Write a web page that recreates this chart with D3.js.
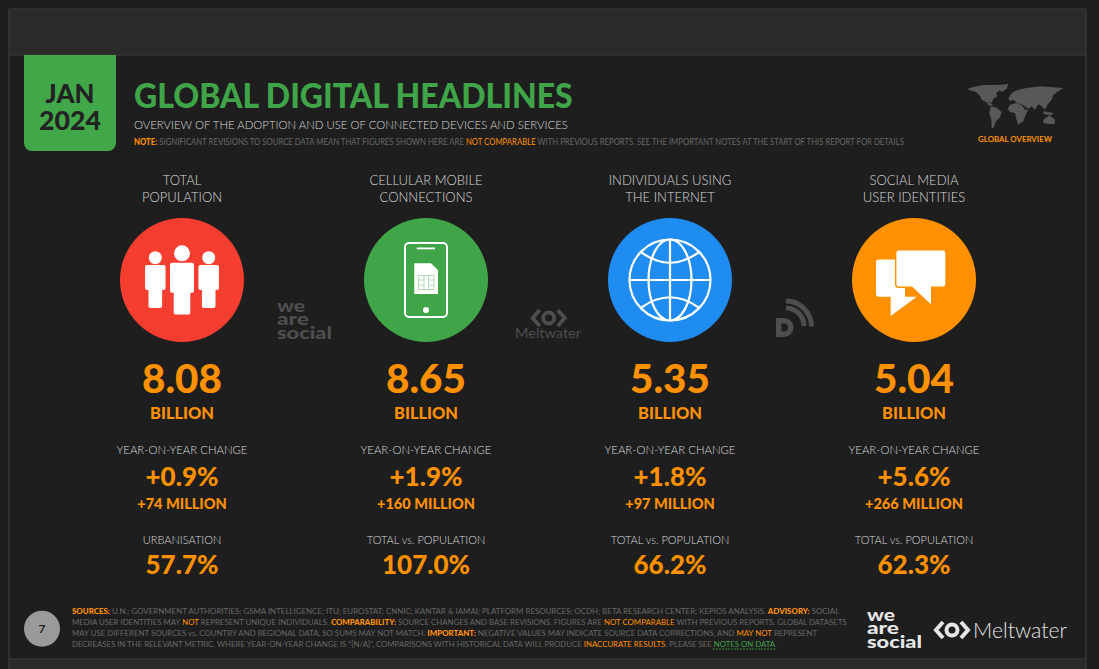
<!DOCTYPE html>
<html><head><meta charset="utf-8">
<script src="https://d3js.org/d3.v7.min.js"></script>
<style>html,body{margin:0;padding:0;background:#1e1e1e;overflow:hidden}svg{display:block}text{font-family:Lato,"Open Sans",sans-serif}</style>
</head><body><svg id="c" width="1099" height="669"></svg>
<script>
const categories=["population","mobile","internet","social"];
const titleLine1=["TOTAL","CELLULAR MOBILE","INDIVIDUALS USING","SOCIAL MEDIA"];
const titleLine2=["POPULATION","CONNECTIONS","THE INTERNET","USER IDENTITIES"];
const headlineValues=["8.08","8.65","5.35","5.04"];
const unitLabels=["BILLION","BILLION","BILLION","BILLION"];
const yoyLabels=["YEAR-ON-YEAR CHANGE","YEAR-ON-YEAR CHANGE","YEAR-ON-YEAR CHANGE","YEAR-ON-YEAR CHANGE"];
const yoyPercent=["+0.9%","+1.9%","+1.8%","+5.6%"];
const yoyAbsolute=["+74 MILLION","+160 MILLION","+97 MILLION","+266 MILLION"];
const ratioLabels=["URBANISATION","TOTAL vs. POPULATION","TOTAL vs. POPULATION","TOTAL vs. POPULATION"];
const ratioValues=["57.7%","107.0%","66.2%","62.3%"];
const circleColours=["#f53d30","#40a548","#1e8cf0","#ff9100"];

const O="#ff9100",G="#686868",W="#d8d8d8",BG="#1e1e1e",GR="#3fa548";
const svg=d3.select("#c");
const x=d3.scalePoint().domain(categories).range([182,914]);

svg.append("rect").attr("width",1099).attr("height",669).attr("fill",BG);
svg.append("rect").attr("x",9).attr("y",9).attr("width",1077).attr("height",46).attr("fill","#2a2a2a");
svg.append("rect").attr("x",9).attr("y",659).attr("width",1077).attr("height",10).attr("fill","#2a2a2a");
const edge=[[9,9,9,669],[1086,9,1086,669],[9,9,1086,9],[9,55,1086,55],[9,659,1086,659]];
svg.selectAll("line.e").data(edge).join("line").attr("class","e")
  .attr("x1",d=>d[0]).attr("y1",d=>d[1]).attr("x2",d=>d[2]).attr("y2",d=>d[3]).attr("stroke","#3b3b3b").attr("stroke-width",1.2);

// squeeze a text horizontally: k is a factor, or an exact width when >= 2
function squeeze(e,px,py,k,pre){
  const n=e.node().getComputedTextLength();
  const f=k>=2?k/n:k;
  e.attr("x",0).attr("y",0).attr("transform",`${pre||""}translate(${px},${py}) scale(${f},1)`);
}
function t(s,px,py,size,fill,weight,anchor,k,g){
  const e=(g||svg).append("text").attr("x",px).attr("y",py).attr("font-size",size).attr("fill",fill)
    .attr("font-weight",weight||400).attr("text-anchor",anchor||"middle").text(s);
  if(k)squeeze(e,px,py,k);
  return e;
}
function rich(parts,px,py,size,width){
  const e=svg.append("text").attr("font-size",size).attr("fill",G);
  parts.forEach(p=>{const s=e.append("tspan").text(p[0]);
    if(p[1]==="b")s.attr("fill",O).attr("font-weight",900);
    if(p[1]==="o")s.attr("fill",O);
    if(p[1]==="g")s.attr("fill",GR);});
  squeeze(e,px,py,width);
  return e;
}

// header
svg.append("path").attr("d","M24 55H116V143a8 8 0 0 1-8 8H32a8 8 0 0 1-8-8Z").attr("fill","#41a749");
t("JAN",70,103,27,"#222",900,"middle",49);
t("2024",70,130,27,"#222",900,"middle",62);
t("GLOBAL DIGITAL HEADLINES",134,107.5,33.5,GR,900,"start",439);
t("OVERVIEW OF THE ADOPTION AND USE OF CONNECTED DEVICES AND SERVICES",134,129,12.5,W,300,"start",434);
rich([["NOTE:","b"],[" SIGNIFICANT REVISIONS TO SOURCE DATA MEAN THAT FIGURES SHOWN HERE ARE "],["NOT COMPARABLE","o"],[" WITH PREVIOUS REPORTS. SEE THE IMPORTANT NOTES AT THE START OF THIS REPORT FOR DETAILS"]],134,145,9,771);

// world map
const land=["M22 33L40 27L65 22L100 20L128 22L118 38L108 45L112 55L100 62L96 74L78 72L66 66L60 54L48 42L35 38Z",
"M110 22L145 18L140 32L125 42L115 32Z","M78 72L92 76L100 84L92 84L84 80Z",
"M92 86L108 88L125 102L120 118L108 130L100 150L95 150L94 125L88 105Z",
"M150 80L168 75L185 82L195 95L205 95L195 115L190 130L175 140L168 120L165 105L150 102L143 92Z",
"M150 52L160 42L175 35L200 30L240 25L280 28L310 30L295 40L280 50L275 65L262 80L255 95L245 85L235 78L225 95L215 85L205 92L190 82L170 75L160 65L150 70L145 62Z",
"M250 100L280 105L275 112L250 108Z","M250 125L268 112L285 125L283 138L265 138L250 135Z"];
svg.append("g").attr("transform","translate(960,78) scale(0.3333)").selectAll("path").data(land).join("path").attr("d",d=>d).attr("fill","#585858");
t("GLOBAL OVERVIEW",1015,142,8,O,700,"middle",74);

// columns
const CY=280,R=62;
categories.forEach((c,i)=>{
  const cx=x(c);
  t(titleLine1[i],cx,185,14.5,W,300,"middle",0.9);
  t(titleLine2[i],cx,202,14.5,W,300,"middle",0.9);
  svg.append("circle").attr("cx",cx).attr("cy",CY).attr("r",R).attr("fill",circleColours[i]);
  t(headlineValues[i],cx,392.5,39,O,900,"middle",80);
  t(unitLabels[i],cx,419,16.5,O,900,"middle",64);
  t(yoyLabels[i],cx,454,12,W,300,"middle",131);
  t(yoyPercent[i],cx,486,26,O,900);
  t(yoyAbsolute[i],cx,508.5,15,O,900,"middle",0.97);
  t(ratioLabels[i],cx,544,12,W,300,"middle",0.92);
  t(ratioValues[i],cx,573.5,26,O,900);
});

// people icon
const pg=svg.append("g").attr("fill","#fff");
function person(g,cx,hy,hr,bw,lw,by,bb,lb){
  g.append("circle").attr("cx",cx).attr("cy",hy).attr("r",hr);
  g.append("rect").attr("x",cx-bw/2).attr("y",by).attr("width",bw).attr("height",bb-by).attr("rx",2);
  g.append("rect").attr("x",cx-lw/2).attr("y",by+5).attr("width",lw).attr("height",lb-by-5).attr("rx",2);
}
person(pg,155.3,257.7,6.5,20.5,13.6,265,290,308);
person(pg,208.7,257.7,6.5,20.5,13.6,265,290,308);
person(pg,182,253.3,8,24,16.6,262.7,292.7,314.5);

// phone icon
const ph=svg.append("g");
ph.append("rect").attr("x",405).attr("y",243).attr("width",42).attr("height",74).attr("rx",4).attr("fill","none").attr("stroke","#fff").attr("stroke-width",2);
ph.append("rect").attr("x",416.7).attr("y",247.5).attr("width",18.3).attr("height",1.8).attr("fill","#fff");
ph.append("circle").attr("cx",426).attr("cy",310).attr("r",3).attr("fill","#fff");
ph.append("path").attr("d","M414.3 263.3H431L438 270V294H414.3Z").attr("fill","#fff");
ph.append("path").attr("d","M418.5 275.5H434V289.5H418.5ZM418.5 280H424M418.5 285H424M428.5 280H434M428.5 285H434M424 275.5V289.5M428.5 275.5V289.5").attr("fill","none").attr("stroke","#9fd3a3").attr("stroke-width",.8);

// globe icon
const gb=svg.append("g").attr("fill","none").attr("stroke","#fff").attr("stroke-width",2.2);
gb.append("circle").attr("cx",670).attr("cy",280).attr("r",40.5);
gb.append("ellipse").attr("cx",670).attr("cy",280).attr("rx",21.5).attr("ry",40.5);
gb.append("path").attr("d","M670 239.5V320.5M629.5 280H710.5M641.5 252.5Q670 273 698.5 252.5M641.5 307.5Q670 287 698.5 307.5");

// chat icon
const ch=svg.append("g");
ch.append("path").attr("d","M879 259.5H905V296.7H916.7L890.7 316V296.7H879a3 3 0 0 1-3-3V262.5a3 3 0 0 1 3-3Z").attr("fill","#fff");
ch.append("path").attr("d","M898.7 249.7H943a3 3 0 0 1 3 3V284.3a3 3 0 0 1-3 3H931.7V306L911.7 287.3H898.7a3 3 0 0 1-3-3V252.7a3 3 0 0 1 3-3Z").attr("fill","#fff").attr("stroke",circleColours[3]).attr("stroke-width",1.4);

// logos
function weAreSocial(px,py,fill){
  const g=svg.append("g").attr("fill",fill);
  t("we",px,py+12,17,fill,900,"start",28);
  t("are",px,py+25,17,fill,900,"start",32);
  t("social",px,py+38.5,17,fill,900,"start",55);
}
function eye(cx,cy,col,sw){
  const g=svg.append("g").attr("transform",`translate(${cx},${cy})`).attr("fill","none").attr("stroke",col).attr("stroke-width",sw);
  g.append("path").attr("d","M-9 -8L-16 0L-9 8M9 -8L16 0L9 8");
  g.append("circle").attr("r",5.5);
}
weAreSocial(277,300,"#4e4e4e");
eye(548.7,318,"#4e4e4e",3.8);
t("Meltwater",548,338,14,"#4e4e4e",400,"middle",66);
const dl=svg.append("g");
dl.append("path").attr("d","M776 318H784A9.5 9.5 0 0 1 784 337H776ZM781.5 323.5V331.5H784A4 4 0 0 0 784 323.5Z").attr("fill","#4e4e4e").attr("fill-rule","evenodd");
dl.append("path").attr("d","M786 308A18 18 0 0 1 804 326M786 301A25.5 25.5 0 0 1 811.5 326.5").attr("fill","none").attr("stroke","#4e4e4e").attr("stroke-width",5);

// footer
svg.append("circle").attr("cx",42).attr("cy",628.7).attr("r",18).attr("fill","#9a9a9a");
t("7",42,633,12,"#222",700);
rich([["SOURCES:","b"],[" U.N.; GOVERNMENT AUTHORITIES; GSMA INTELLIGENCE; ITU; EUROSTAT; CNNIC; KANTAR & IAMAI; PLATFORM RESOURCES; OCDH; BETA RESEARCH CENTER; KEPIOS ANALYSIS. "],["ADVISORY:","b"],[" SOCIAL"]],72,614,8.2,767);
rich([["MEDIA USER IDENTITIES MAY "],["NOT","o"],[" REPRESENT UNIQUE INDIVIDUALS. "],["COMPARABILITY:","b"],[" SOURCE CHANGES AND BASE REVISIONS. FIGURES ARE "],["NOT COMPARABLE","o"],[" WITH PREVIOUS REPORTS. GLOBAL DATASETS"]],72,625,8.2,774);
rich([["MAY USE DIFFERENT SOURCES vs. COUNTRY AND REGIONAL DATA, SO SUMS MAY NOT MATCH. "],["IMPORTANT:","b"],[" NEGATIVE VALUES MAY INDICATE SOURCE DATA CORRECTIONS, AND "],["MAY NOT","o"],[" REPRESENT"]],72,636,8.2,745);
rich([["DECREASES IN THE RELEVANT METRIC. WHERE YEAR-ON-YEAR CHANGE IS \u201C[N/A]\u201D, COMPARISONS WITH HISTORICAL DATA WILL PRODUCE "],["INACCURATE RESULTS","o"],[". PLEASE SEE "],["NOTES ON DATA","g"],["."]],72,647,8.2,705);
svg.append("line").attr("x1",713).attr("x2",776).attr("y1",649).attr("y2",649).attr("stroke",GR).attr("stroke-dasharray","2 1").attr("stroke-width",.8);
weAreSocial(867,609,"#e6e6e6");
eye(952,630,"#e6e6e6",4);
t("Meltwater",973,638,22,"#e6e6e6",300,"start",94);
</script></body></html>
